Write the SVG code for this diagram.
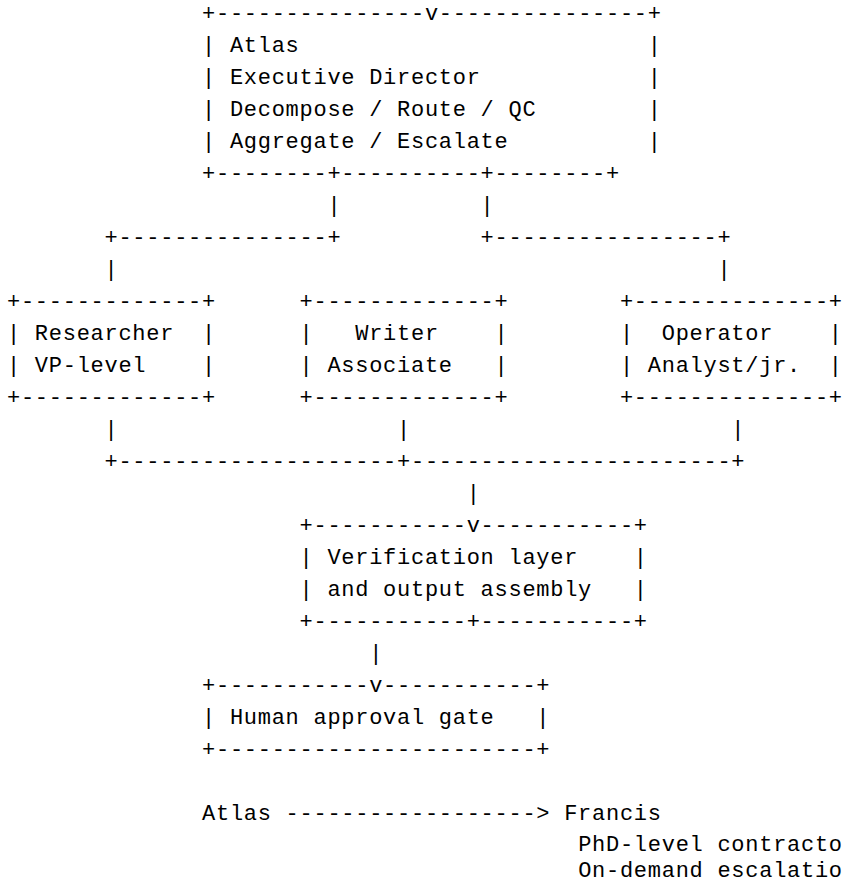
<svg xmlns="http://www.w3.org/2000/svg" width="846" height="885" viewBox="0 0 846 885" xml:space="preserve">
<style>
text { font-family: "Liberation Mono", "DejaVu Sans Mono", monospace; font-size: 22px; letter-spacing: 0.728px; fill: #000; white-space: pre; }
</style>
<rect width="846" height="885" fill="#fff"/>
<g id="node-atlas">
<text x="202.02" y="20">+---------------v---------------+</text>
<text x="202.02" y="52">| Atlas</text><text x="647.78" y="52">|</text>
<text x="202.02" y="84">| Executive Director</text><text x="647.78" y="84">|</text>
<text x="202.02" y="116">| Decompose / Route / QC</text><text x="647.78" y="116">|</text>
<text x="202.02" y="148">| Aggregate / Escalate</text><text x="647.78" y="148">|</text>
<text x="202.02" y="180">+--------+----------+--------+</text>
</g>
<g id="connectors">
<text x="327.39" y="212">|</text><text x="480.62" y="212">|</text>
<text x="104.51" y="244">+---------------+</text><text x="480.62" y="244">+----------------+</text>
<text x="104.51" y="276">|</text><text x="717.43" y="276">|</text>
<text x="104.51" y="436">|</text><text x="397.04" y="436">|</text><text x="731.36" y="436">|</text>
<text x="104.51" y="468">+--------------------+-----------------------+</text>
<text x="466.69" y="500">|</text>
<text x="369.18" y="660">|</text>
<text x="285.6" y="820">------------------&gt;</text>
</g>
<g id="node-researcher">
<text x="7" y="308">+-------------+</text>
<text x="7" y="340">| Researcher</text><text x="202.02" y="340">|</text>
<text x="7" y="372">| VP-level</text><text x="202.02" y="372">|</text>
<text x="7" y="404">+-------------+</text>
</g>
<g id="node-writer">
<text x="299.53" y="308">+-------------+</text>
<text x="299.53" y="340">|</text><text x="355.25" y="340">Writer</text><text x="494.55" y="340">|</text>
<text x="299.53" y="372">| Associate</text><text x="494.55" y="372">|</text>
<text x="299.53" y="404">+-------------+</text>
</g>
<g id="node-operator">
<text x="619.92" y="308">+--------------+</text>
<text x="619.92" y="340">|</text><text x="661.71" y="340">Operator</text><text x="828.87" y="340">|</text>
<text x="619.92" y="372">| Analyst/jr.</text><text x="828.87" y="372">|</text>
<text x="619.92" y="404">+--------------+</text>
</g>
<g id="node-verification">
<text x="299.53" y="532">+-----------v-----------+</text>
<text x="299.53" y="564">| Verification layer</text><text x="633.85" y="564">|</text>
<text x="299.53" y="596">| and output assembly</text><text x="633.85" y="596">|</text>
<text x="299.53" y="628">+-----------+-----------+</text>
</g>
<g id="node-human">
<text x="202.02" y="692">+-----------v-----------+</text>
<text x="202.02" y="724">| Human approval gate</text><text x="536.34" y="724">|</text>
<text x="202.02" y="756">+-----------------------+</text>
</g>
<g id="node-atlas-ref">
<text x="202.02" y="820">Atlas</text>
</g>
<g id="node-francis">
<text x="564.2" y="820">Francis</text>
<text x="578.13" y="851">PhD-level contracto</text>
<text x="578.13" y="877">On-demand escalatio</text>
</g>
</svg>
